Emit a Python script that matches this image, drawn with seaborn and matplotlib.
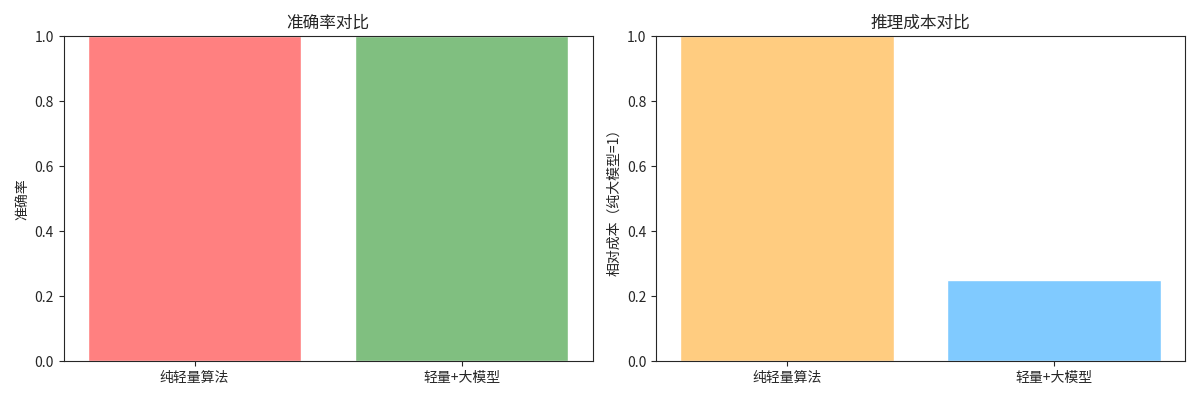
import pandas as pd
import seaborn as sns
import matplotlib.pyplot as plt

# data
methods = ['纯轻量算法', '轻量+大模型']
accuracy = [1.0, 1.0]
relative_cost = [1.0, 0.25]
acc_colors = ['#ff8080', '#80bf80']
cost_colors = ['#ffcc80', '#80caff']

sns.set_style('ticks')
plt.rcParams['font.family'] = ['Noto Sans CJK SC', 'DejaVu Sans']
plt.rcParams['axes.unicode_minus'] = False

df = pd.DataFrame({'method': methods, 'accuracy': accuracy, 'cost': relative_cost})

fig, axes = plt.subplots(1, 2, figsize=(12, 4), dpi=100)

ax = axes[0]
sns.barplot(data=df, x='method', y='accuracy', hue='method', palette=acc_colors,
            saturation=1, width=0.8, legend=False, ax=ax)
ax.set_ylim(0, 1)
ax.set_title('准确率对比')
ax.set_ylabel('准确率')
ax.set_xlabel('')

ax = axes[1]
sns.barplot(data=df, x='method', y='cost', hue='method', palette=cost_colors,
            saturation=1, width=0.8, legend=False, ax=ax)
ax.set_ylim(0, 1)
ax.set_title('推理成本对比')
ax.set_ylabel('相对成本（纯大模型=1）')
ax.set_xlabel('')

# same margins as plain matplotlib bars
for ax in axes:
    ax.set_xlim(-0.49, 1.49)

plt.tight_layout()
plt.savefig('out.png')
plt.close()
